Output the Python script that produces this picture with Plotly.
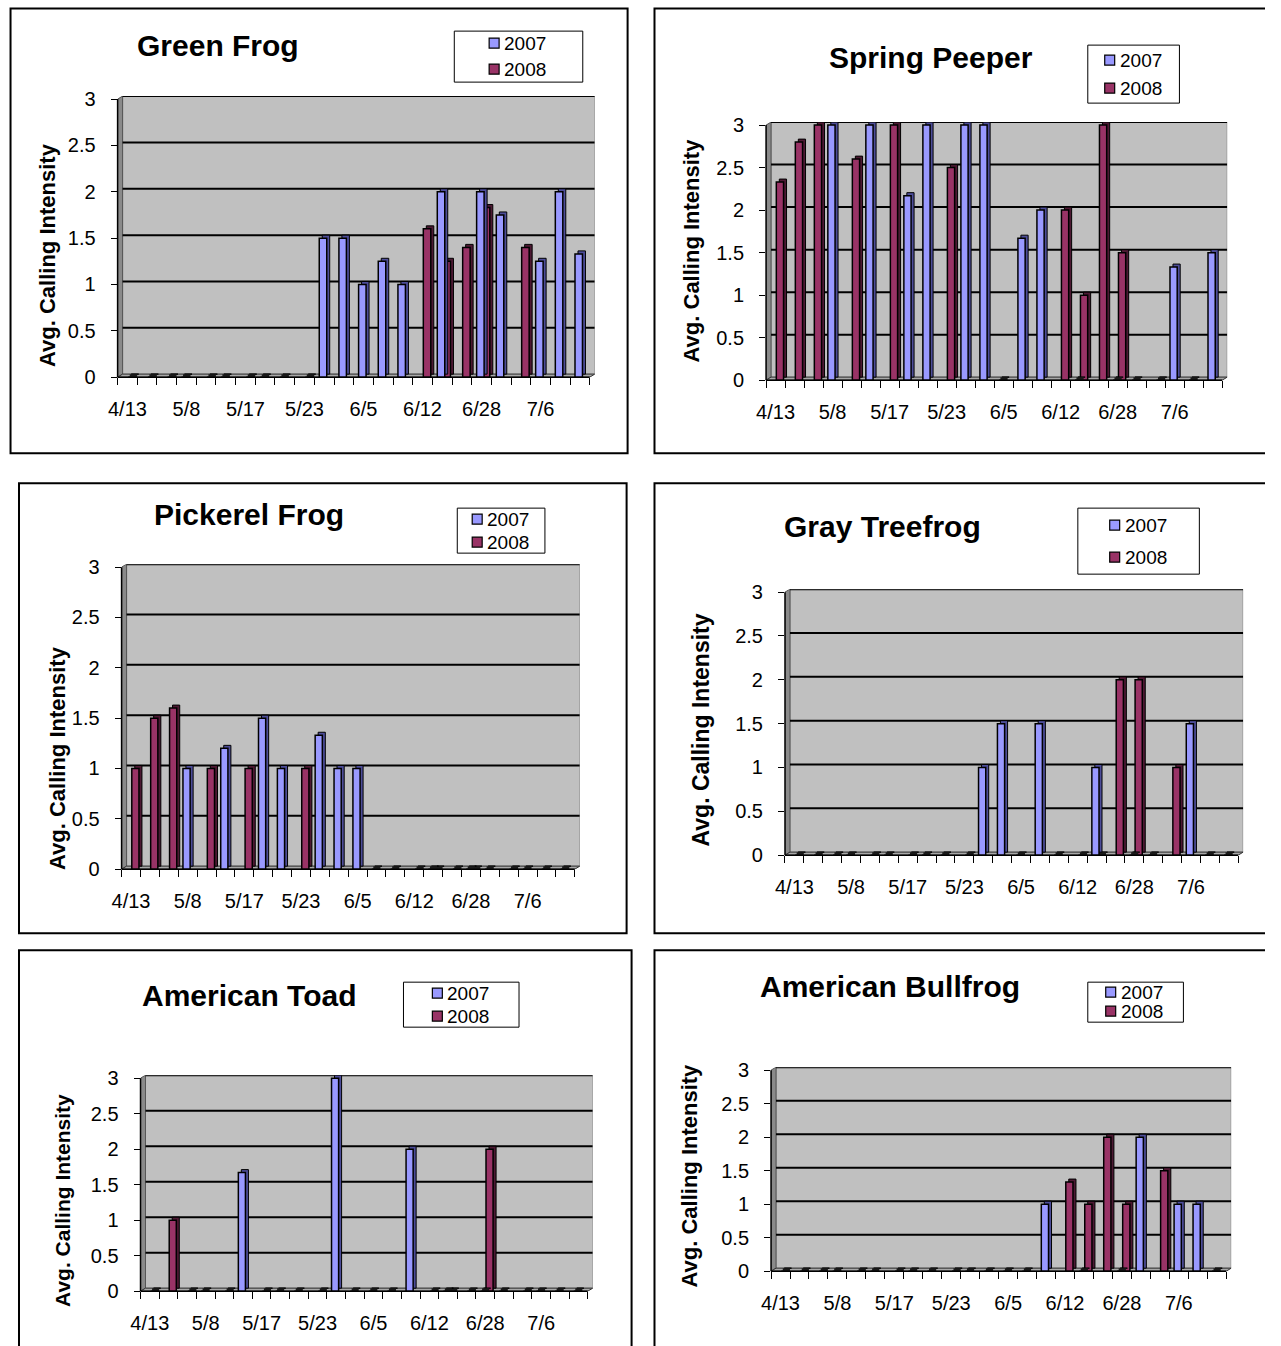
import plotly.graph_objects as go

# page size, the browser's default body margin, and render scale per axis
W, H = 1281, 1346
MARGIN = 8
SX, SY = 0.996, 0.986
FW, FH = W - 2 * MARGIN, 1362
N = None

# 24 survey dates on the x axis; every third one carries a label
N_CAT = 24
TICK_POS = [0, 3, 6, 9, 12, 15, 18, 21]
TICK_LABELS = ["4/13", "5/8", "5/17", "5/23", "6/5", "6/12", "6/28", "7/6"]
Y_TICKS = [0, 0.5, 1, 1.5, 2, 2.5, 3]
Y_LABELS = ["0", "0.5", "1", "1.5", "2", "2.5", "3"]
YEARS = ["2007", "2008"]

# Avg. calling intensity per survey date (None = no survey that year)
green_2007 = [N, N, N, 0, N, 0, N, 0, 0, N, 1.5, 1.5, 1.0, 1.25, 1.0, N, 2.0, N, 2.0, 1.75, N, 1.25, 2.0, 1.33]
green_2008 = [0, 0, 0, N, 0, N, 0, N, N, 0, N, N, N, N, N, 1.6, 1.25, 1.4, 1.83, N, 1.4, N, N, N]

spring_2007 = [N, N, N, 3, N, 3, N, 2.17, 3, N, 3, 3, 0, 1.67, 2.0, N, 0, N, 0, 0, N, 1.33, 0, 1.5]
spring_2008 = [2.33, 2.8, 3, N, 2.6, N, 3, N, N, 2.5, N, N, N, N, N, 2.0, 1.0, 3, 1.5, N, 0, N, N, N]

pickerel_2007 = [N, N, N, 1, N, 1.2, N, 1.5, 1, N, 1.33, 1, 1, 0, 0, N, 0, N, 0, 0, N, 0, 0, 0]
pickerel_2008 = [1, 1.5, 1.6, N, 1, N, 1, N, N, 1, N, N, N, N, N, 0, 0, 0, 0, N, 0, N, N, N]

gray_2007 = [N, N, N, 0, N, 0, N, 0, 0, N, 1, 1.5, 0, 1.5, 0, N, 1, N, 0, 0, N, 1.5, 0, 0]
gray_2008 = [0, 0, 0, N, 0, N, 0, N, N, 0, N, N, N, N, N, 0, 0, 2, 2, N, 1, N, N, N]

toad_2007 = [N, N, N, 0, N, 1.67, N, 0, 0, N, 3, 0, 0, 0, 2, N, 0, N, 0, 0, N, 0, 0, 0]
toad_2008 = [0, 1, 0, N, 0, N, 0, N, N, 0, N, N, N, N, N, 0, 0, 0, 2, N, 0, N, N, N]

bull_2007 = [N, N, N, 0, N, 0, N, 0, 0, N, 0, 0, 0, 0, 1, N, 0, N, 0, 2, N, 1, 1, 0]
bull_2008 = [0, 0, 0, N, 0, N, 0, N, N, 0, N, N, N, N, N, 1.33, 1, 2, 1, N, 1.5, N, N, N]

FONT = "Liberation Sans, Arial, sans-serif"
COLORS = {"2007": "#9999FF", "2008": "#993366"}
SIDE_COLORS = {"2007": "#4D4D99", "2008": "#4D1933"}
OFFSETS = {"2007": -0.25, "2008": 0.04}
BAR_W = 0.38
WALL, SIDE, FLOOR = "#C0C0C0", "#8A8A8A", "#A8A8A8"

# panel layout in page pixels
panels = [
    dict(title="Green Frog", s07=green_2007, s08=green_2008,
         frame=(8.5, 8.5, 628, 453), plot=(116, 590, 377, 99),
         title_xy=(217, 45), ytitle=(45, 255, 22),
         legend=(454, 31, 583, 82), rows=(43, 69), sw=489),
    dict(title="Spring Peeper", s07=spring_2007, s08=spring_2008,
         frame=(655, 8.5, 1290, 453), plot=(767, 1225, 380, 125),
         title_xy=(933, 57), ytitle=(692, 250, 22),
         legend=(1090, 45, 1182, 103), rows=(60, 88), sw=1107),
    dict(title="Pickerel Frog", s07=pickerel_2007, s08=pickerel_2008,
         frame=(17, 483, 627, 933), plot=(120, 575, 869, 567),
         title_xy=(248, 514), ytitle=(55, 758, 22),
         legend=(457, 508, 545, 553), rows=(519, 542), sw=472),
    dict(title="Gray Treefrog", s07=gray_2007, s08=gray_2008,
         frame=(655, 483, 1290, 933), plot=(786, 1241, 855, 592),
         title_xy=(884, 526), ytitle=(702, 730, 23),
         legend=(1080, 508, 1202, 574), rows=(525, 557), sw=1112),
    dict(title="American Toad", s07=toad_2007, s08=toad_2008,
         frame=(17, 950, 632, 1380), plot=(139, 588, 1291, 1078),
         title_xy=(248, 995), ytitle=(60, 1200, 21),
         legend=(403, 982, 519, 1027), rows=(993, 1016), sw=432),
    dict(title="American Bullfrog", s07=bull_2007, s08=bull_2008,
         frame=(655, 950, 1269, 1380), plot=(772, 1229, 1271, 1070),
         title_xy=(891, 986), ytitle=(690, 1175, 22),
         legend=(1090, 982, 1186, 1022), rows=(992, 1011), sw=1108),
]


def px(x):
    """page x pixel -> paper fraction"""
    return (x / SX - MARGIN) / FW


def py(y):
    """page y pixel -> paper fraction"""
    return 1 - (y / SY - MARGIN) / FH


fig = go.Figure()
shapes, annotations, layout_axes = [], [], {}

for k, p in enumerate(panels, start=1):
    xa, ya = f"x{k}", f"y{k}"
    xl, xr, yb, yt = p["plot"]
    cw = (xr - xl) / N_CAT          # pixels per category
    uh = (yb - yt) / 3.0            # pixels per unit
    dxw, dyw = 5 / cw, 3 / uh       # wall depth
    dxb, dyb = 3 / cw, 3 / uh       # bar depth
    stub = 3 / uh
    cats = list(range(N_CAT))
    series = {"2007": p["s07"], "2008": p["s08"]}

    # bars: 2008 first so 2007 sits in front where they touch
    for yr in ["2008", "2007"]:
        vals = series[yr]
        fig.add_trace(go.Bar(
            x=cats, y=vals, base=dyb, offset=OFFSETS[yr] + dxb, width=BAR_W,
            marker=dict(color=SIDE_COLORS[yr], line=dict(color="#000000", width=1)),
            xaxis=xa, yaxis=ya, showlegend=False, hoverinfo="skip"))
        fig.add_trace(go.Bar(
            x=cats, y=vals, offset=OFFSETS[yr], width=BAR_W, name=yr,
            marker=dict(color=COLORS[yr], line=dict(color="#000000", width=1.5)),
            xaxis=xa, yaxis=ya, showlegend=False))
        zero = [stub if v == 0 else None for v in vals]
        fig.add_trace(go.Bar(
            x=cats, y=zero, offset=OFFSETS[yr] + dxb / 2, width=BAR_W,
            marker=dict(color="#1A1A1A", line=dict(width=0)),
            xaxis=xa, yaxis=ya, showlegend=False, hoverinfo="skip"))

    # 3-D walls, floor and back-wall gridlines
    x0, x1 = -0.5, N_CAT - 0.5
    shapes.append(dict(type="rect", xref=xa, yref=ya, x0=x0 + dxw, x1=x1 + dxw,
                       y0=dyw, y1=3 + dyw, fillcolor=WALL,
                       line=dict(color="#7F7F7F", width=1), layer="below"))
    shapes.append(dict(type="path", xref=xa, yref=ya,
                       path=f"M{x0},0 L{x0},3 L{x0 + dxw},{3 + dyw} L{x0 + dxw},{dyw} Z",
                       fillcolor=SIDE, line=dict(color="#555555", width=1), layer="below"))
    shapes.append(dict(type="path", xref=xa, yref=ya,
                       path=f"M{x0},0 L{x1},0 L{x1 + dxw},{dyw} L{x0 + dxw},{dyw} Z",
                       fillcolor=FLOOR, line=dict(color="#333333", width=1), layer="below"))
    for v in Y_TICKS[1:]:
        shapes.append(dict(type="line", xref=xa, yref=ya, x0=x0 + dxw, x1=x1 + dxw,
                           y0=v + dyw, y1=v + dyw,
                           line=dict(color="#000000", width=2), layer="below"))

    # front axis lines
    shapes.append(dict(type="line", xref="paper", yref="paper",
                       x0=px(xl), x1=px(xl), y0=py(yb), y1=py(yt),
                       line=dict(color="#000000", width=1.5)))
    shapes.append(dict(type="line", xref="paper", yref="paper",
                       x0=px(xl), x1=px(xr), y0=py(yb), y1=py(yb),
                       line=dict(color="#000000", width=1.5)))

    # panel frame
    fx0, fy0, fx1, fy1 = p["frame"]
    shapes.append(dict(type="rect", xref="paper", yref="paper",
                       x0=px(fx0), x1=px(fx1), y0=py(fy1), y1=py(fy0),
                       line=dict(color="#000000", width=2), fillcolor="rgba(0,0,0,0)"))

    # legend box with swatches
    lx0, ly0, lx1, ly1 = p["legend"]
    shapes.append(dict(type="rect", xref="paper", yref="paper",
                       x0=px(lx0), x1=px(lx1), y0=py(ly1), y1=py(ly0),
                       line=dict(color="#000000", width=1), fillcolor="#FFFFFF"))
    for yr, ry in zip(YEARS, p["rows"]):
        shapes.append(dict(type="rect", xref="paper", yref="paper",
                           x0=px(p["sw"]), x1=px(p["sw"] + 10),
                           y0=py(ry + 5), y1=py(ry - 5),
                           fillcolor=COLORS[yr], line=dict(color="#000000", width=1.2)))
        annotations.append(dict(text=yr, xref="paper", yref="paper",
                                x=px(p["sw"] + 13), y=py(ry), xanchor="left", yanchor="middle",
                                showarrow=False, font=dict(family=FONT, size=19, color="#000000")))

    # chart title and y-axis title
    tx, ty = p["title_xy"]
    annotations.append(dict(text=f"<b>{p['title']}</b>", xref="paper", yref="paper",
                            x=px(tx), y=py(ty), xanchor="center", yanchor="middle",
                            showarrow=False, font=dict(family=FONT, size=30, color="#000000")))
    yx, yy, ys = p["ytitle"]
    annotations.append(dict(text="<b>Avg. Calling Intensity</b>", xref="paper", yref="paper",
                            x=px(yx), y=py(yy), xanchor="center", yanchor="middle", textangle=-90,
                            showarrow=False, font=dict(family=FONT, size=ys, color="#000000")))

    sfx = "" if k == 1 else str(k)
    layout_axes[f"xaxis{sfx}"] = dict(
        domain=[px(xl), px(xr + 5)], range=[x0, x1 + dxw], anchor=ya,
        tickmode="array", tickvals=TICK_POS, ticktext=TICK_LABELS, ticks="",
        ticklabelstandoff=18,
        minor=dict(tickmode="array", tickvals=[i - 0.5 for i in range(N_CAT + 1)],
                   ticks="outside", ticklen=7, tickcolor="#000000", tickwidth=1, showgrid=False),
        showgrid=False, zeroline=False, showline=False, fixedrange=True,
        tickfont=dict(family=FONT, size=20, color="#000000"))
    layout_axes[f"yaxis{sfx}"] = dict(
        domain=[py(yb), py(yt - 3)], range=[0, 3 + dyw], anchor=xa,
        tickmode="array", tickvals=Y_TICKS, ticktext=Y_LABELS,
        ticks="outside", ticklen=6, tickcolor="#000000", tickwidth=1,
        ticklabelstandoff=11,
        showgrid=False, zeroline=False, showline=False, fixedrange=True,
        tickfont=dict(family=FONT, size=20, color="#000000"))

fig.update_layout(
    width=FW, height=FH, margin=dict(l=0, r=0, t=0, b=0),
    paper_bgcolor="#FFFFFF", plot_bgcolor="rgba(0,0,0,0)",
    barmode="overlay", showlegend=False,
    shapes=shapes, annotations=annotations, **layout_axes)

fig.write_html("out.html", config={"displayModeBar": False})
